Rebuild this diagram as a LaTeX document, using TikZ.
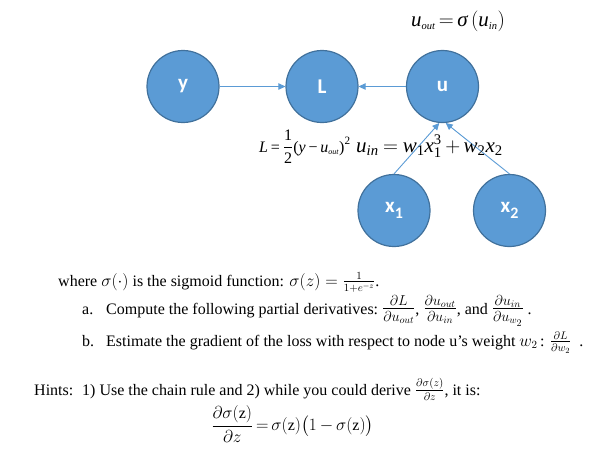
\documentclass[tikz,border=0pt]{standalone}
\usepackage{amsmath}
\usepackage{fontspec}
\setmainfont{Liberation Serif}
\newfontfamily\calibri{Carlito}
\usetikzlibrary{arrows.meta}
\definecolor{nodefill}{HTML}{5B9BD5}
\definecolor{nodeedge}{HTML}{41719C}
\definecolor{arrowblue}{HTML}{5B9BD5}
\newcommand\itx[1]{\text{\itshape #1}}
\newcommand\upx[1]{\text{\upshape #1}}
\newcommand\bigfrac[2]{{\fontsize{20}{20}\selectfont$\frac{#1}{#2}$}}
\begin{document}
\begin{tikzpicture}[x=1pt,y=-1pt,
  vnode/.style={circle, fill=nodefill, draw=nodeedge, line width=1.2pt,
    minimum size=72pt, inner sep=0pt, text=white,
    font=\calibri\bfseries\fontsize{21}{24}\selectfont},
  arr/.style={draw=arrowblue, line width=0.9pt, -{Triangle[length=7pt,width=6.5pt]}},
  txt/.style={anchor=base west, inner sep=0pt, font=\fontsize{16}{19}\selectfont},
  eqtxt/.style={anchor=base west, inner sep=0pt},
]
\useasboundingbox (0,0) rectangle (598,456);

% nodes
\node[vnode] (y) at (183,86.5) {y};
\node[vnode] (L) at (322,86.5) {L};
\node[vnode] (u) at (442.5,86.5) {u};
\node[vnode] (x1) at (394,210.5) {x\raisebox{-0.32em}{\fontsize{16}{16}\selectfont 1}};
\node[vnode] (x2) at (509.5,210.5) {x\raisebox{-0.32em}{\fontsize{16}{16}\selectfont 2}};

% connectors
\draw[arr] (y) -- (L);
\draw[arr] (u) -- (L);
\draw[arr] (x1.north) -- (u.265);
\draw[arr] (x2.north) -- (u.275);

% equations near the graph
\node[anchor=base, inner sep=0pt, font=\fontsize{21}{26}\selectfont] (equout) at (458,26)
  {$\itx{u}_{\scriptscriptstyle\itx{out}}\mskip3mu{=}\mskip3mu\itx{σ}\left(\itx{u}_{\scriptscriptstyle\itx{in}}\right)$};
\node[eqtxt, font=\fontsize{16}{18}\selectfont] (eqL) at (259,152)
  {$\itx{L}\,\upx{=}\,\displaystyle\frac{\upx{1}}{\upx{2}}\upx{(}\itx{y}\mskip3mu\upx{−}\mskip3mu\itx{u}_{\scriptscriptstyle\itx{out}}\upx{)}^{\upx{2}}$};
\node[eqtxt, font=\fontsize{21}{26}\selectfont] (eqU) at (356,152)
  {$\itx{u}_{\itx{in}}\mskip4mu{=}\mskip4mu\itx{w}_{\upx{1}}\itx{x}_{\upx{1}}^{\upx{3}}\mskip3mu{+}\mskip3mu\itx{w}_{\upx{2}}\itx{x}_{\upx{2}}$};

% text block
\node[txt] (l1) at (58,286)
  {where $\sigma(\cdot)$ is the sigmoid function: $\sigma(z) = \frac{1}{1+e^{-z}}$.};
\node[txt] (la) at (82,314) {a.};
\node[txt] (lat) at (106,314)
  {Compute the following partial derivatives:\ \bigfrac{\partial L}{\partial u_{out}}, \bigfrac{\partial u_{out}}{\partial u_{in}}, and\ \bigfrac{\partial u_{in}}{\partial u_{w_2}}\ .};
\node[txt] (lb) at (82,346) {b.};
\node[txt] (lbt) at (106,346)
  {Estimate the gradient of the loss with respect to node u’s weight $w_2$\,: $\frac{\partial L}{\partial w_2}$\ \ .};
\node[txt] (lh) at (34,395) {Hints:};
\node[txt] (lht) at (82,395)
  {1) Use the chain rule and 2) while you could derive $\frac{\partial\sigma(z)}{\partial z}$, it is:};
\node[inner sep=0pt, font=\fontsize{16}{19}\selectfont] (final) at (292.5,424)
  {$\displaystyle\frac{\partial\sigma(\mathrm{z})}{\partial z}\mskip3mu{=}\mskip3mu\sigma(\mathrm{z})\bigl(1\mskip3mu{-}\mskip3mu\sigma(\mathrm{z})\bigr)$};
\end{tikzpicture}
\end{document}
